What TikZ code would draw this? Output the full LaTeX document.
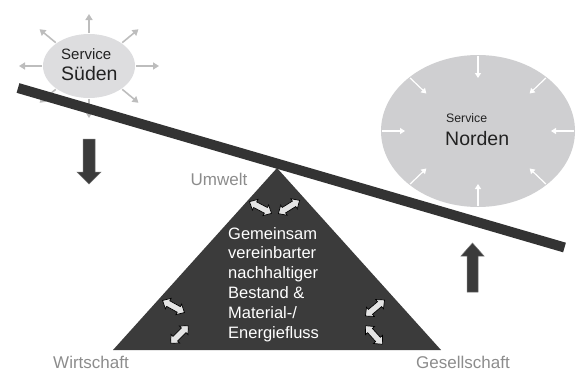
\documentclass[tikz,border=0pt]{standalone}
\usepackage{fontspec}
\setmainfont{Liberation Sans}
\usetikzlibrary{arrows.meta,shapes.geometric}
\definecolor{beamgrey}{HTML}{333333}
\definecolor{trigrey}{HTML}{3B3B3B}
\definecolor{suedfill}{HTML}{DDDDDF}
\definecolor{nordfill}{HTML}{CFCFD1}
\definecolor{labelgrey}{HTML}{8C8C8C}
\definecolor{outgrey}{HTML}{BDBDBD}
\definecolor{flowfill}{HTML}{E4E4E4}
\definecolor{textgrey}{HTML}{222222}
\begin{document}
\begin{tikzpicture}[x=1pt,y=-1pt,
    outarrow/.style={draw=outgrey,line width=1.6pt,-{Triangle[length=6pt,width=7pt]}},
    inarrow/.style={draw=white,line width=1.2pt,-{Triangle[length=5pt,width=6pt]}},
    corner/.style={text=labelgrey,inner sep=0,anchor=base,font=\fontsize{17}{20}\selectfont},
    svc/.style={text=textgrey,inner sep=0,anchor=base west},
    blockarrow/.style={fill=trigrey,draw=black!55,line width=0.5pt},
    flow/.pic={\draw[fill=flowfill,draw=black,line width=0.7pt]
        (-12.5,0) -- (-6,-6) -- (-6,-3.2) -- (6,-3.2) -- (6,-6) -- (12.5,0)
        -- (6,6) -- (6,3.2) -- (-6,3.2) -- (-6,6) -- cycle;}]
    \useasboundingbox (0,0) rectangle (579,372);
    \node[ellipse,fill=suedfill,minimum width=92,minimum height=64,inner sep=0] (sued) at (89,66) {};
    \node[ellipse,fill=nordfill,minimum width=194,minimum height=152,inner sep=0] (nord) at (478,131) {};
    \foreach \a in {0,45,...,315}
        \draw[outarrow,shift={(sued.center)}] (\a:47 and 33) -- (\a:70 and 52);
    \foreach \a in {0,45,...,315}
        \draw[inarrow,shift={(nord.center)}] (\a:96 and 75) -- (\a:73 and 53);
    \node[svc,font=\fontsize{15}{18}\selectfont] (suedsvc) at (61,59) {Service};
    \node[svc,font=\fontsize{19.5}{23}\selectfont] (suedname) at (61,80) {Süden};
    \node[svc,font=\fontsize{12.3}{15}\selectfont] (nordsvc) at (446,122) {Service};
    \node[svc,font=\fontsize{19.5}{23}\selectfont] (nordname) at (445,145) {Norden};
    \coordinate (bl) at (18,88);
    \coordinate (br) at (564.5,247.5);
    \draw[beamgrey,line width=10pt] (bl) -- (br);
    \coordinate (top) at (277,168);
    \coordinate (left) at (113,350);
    \coordinate (right) at (441,350);
    \fill[trigrey] (left) -- (top) -- (right) -- cycle;
    \pic[rotate=-28] (flowtl) at (260.5,207.5) {flow};
    \pic[rotate=32] (flowtr) at (289,207) {flow};
    \pic[rotate=-29] (flowlu) at (173.5,306.5) {flow};
    \pic[rotate=45] (flowll) at (179.5,334.5) {flow};
    \pic[rotate=40] (flowru) at (375,308) {flow};
    \pic[rotate=-48] (flowrl) at (374,335) {flow};
    \node[anchor=north west,align=left,text=white,inner sep=0,font=\fontsize{16.5}{19.8}\selectfont] (bestand) at (228,227)
        {Gemeinsam\\vereinbarter\\nachhaltiger\\Bestand \&\\Material-/\\Energiefluss};
    \node[corner] (umwelt) at (219,185) {Umwelt};
    \node[corner] (wirtschaft) at (91,368.5) {Wirtschaft};
    \node[corner] (gesellschaft) at (463,368.5) {Gesellschaft};
    \draw[blockarrow] (83,139) -- (95,139) -- (95,172) -- (101,172) -- (89,184) -- (77,172) -- (83,172) -- cycle;
    \draw[blockarrow] (467,292) -- (478,292) -- (478,256) -- (484,256) -- (472.5,243) -- (461,256) -- (467,256) -- cycle;
\end{tikzpicture}
\end{document}
